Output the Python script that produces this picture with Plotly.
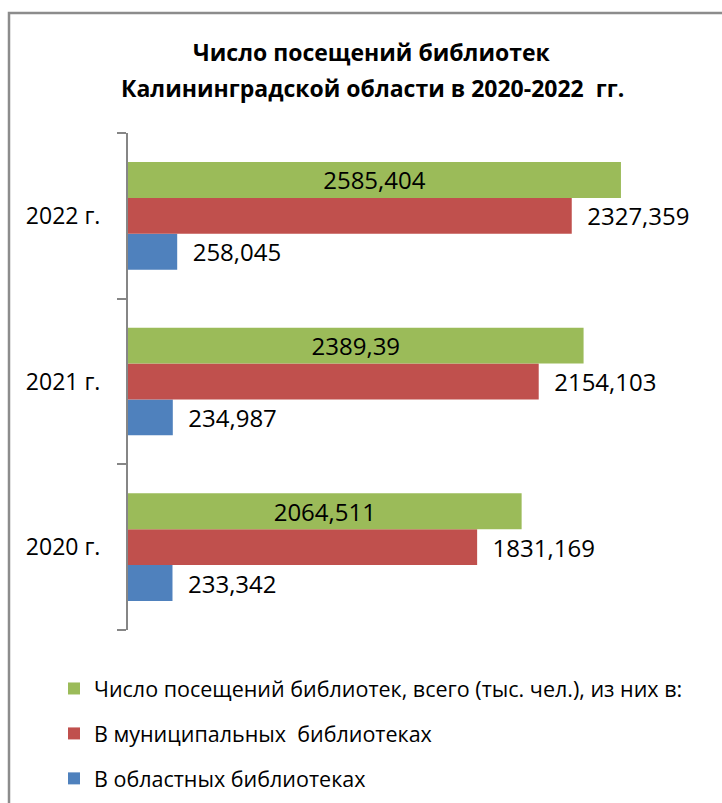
import plotly.graph_objects as go

categories = ["2020 г.", "2021 г.", "2022 г."]
total_visits = [2064.511, 2389.39, 2585.404]
municipal_visits = [1831.169, 2154.103, 2327.359]
regional_visits = [233.342, 234.987, 258.045]

series_names = [
    "Число посещений библиотек, всего (тыс. чел.), из них в:",
    "В муниципальных  библиотеках",
    "В областных библиотеках",
]
colors = ["#9BBB59", "#C0504D", "#4F81BD"]
FONT = "Open Sans"


def fmt(v):
    return str(v).replace(".", ",")


W, H = 722, 803
ML, MR, MT, MB = 128, 22, 133, 173
PW = W - ML - MR
PH = H - MT - MB


def px_x(p):
    return (p - ML) / PW


def px_y(p):
    return (H - MB - p) / PH


fig = go.Figure()
# blue first (bottom of group), then red, then green (top)
fig.add_trace(go.Bar(
    y=categories, x=regional_visits, orientation="h", name=series_names[2],
    marker=dict(color=colors[2], line=dict(width=0)),
    text=["\u00a0\u00a0" + fmt(v) for v in regional_visits],
    textposition="outside", textfont=dict(family=FONT, size=24, color="black"),
    cliponaxis=False, legendgroup="c", legendrank=3,
))
fig.add_trace(go.Bar(
    y=categories, x=municipal_visits, orientation="h", name=series_names[1],
    marker=dict(color=colors[1], line=dict(width=0)),
    text=["\u00a0\u00a0" + fmt(v) for v in municipal_visits],
    textposition="outside", textfont=dict(family=FONT, size=24, color="black"),
    cliponaxis=False, legendgroup="b", legendrank=2,
))
fig.add_trace(go.Bar(
    y=categories, x=total_visits, orientation="h", name=series_names[0],
    marker=dict(color=colors[0], line=dict(width=0)),
    text=[fmt(v) for v in total_visits],
    textposition="inside", insidetextanchor="middle",
    textfont=dict(family=FONT, size=24, color="black"),
    constraintext="none", cliponaxis=False, legendgroup="a", legendrank=1,
))

fig.update_layout(
    width=W, height=H,
    margin=dict(l=ML, r=MR, t=MT, b=MB, autoexpand=False),
    paper_bgcolor="white", plot_bgcolor="white",
    font=dict(family=FONT, color="black"),
    barmode="group", bargap=0.35, bargroupgap=0,
    xaxis=dict(visible=False, range=[0, 3000], fixedrange=True),
    yaxis=dict(
        showline=True, linecolor="#868686", linewidth=2,
        ticks="outside", tickson="boundaries", ticklen=9, tickcolor="#868686", tickwidth=2,
        ticklabelstandoff=21,
        tickfont=dict(family=FONT, size=23, color="black"),
        showgrid=False, zeroline=False, fixedrange=True,
    ),
    showlegend=True,
    legend=dict(
        x=px_x(54), xanchor="left", y=px_y(668), yanchor="top",
        traceorder="grouped", tracegroupgap=14,
        font=dict(family=FONT, size=21.5, color="black"),
        bgcolor="rgba(0,0,0,0)",
    ),
    annotations=[
        dict(text="<b>Число посещений библиотек</b>", xref="paper", yref="paper",
             x=px_x(372), y=px_y(52), xanchor="center", yanchor="middle",
             showarrow=False, font=dict(family=FONT, size=23, color="black")),
        dict(text="<b>Калининградской области в 2020-2022  гг.</b>", xref="paper", yref="paper",
             x=px_x(372), y=px_y(88), xanchor="center", yanchor="middle",
             showarrow=False, font=dict(family=FONT, size=23, color="black")),
    ],
    shapes=[dict(
        type="rect", xref="paper", yref="paper",
        x0=px_x(9), x1=px_x(760), y0=px_y(840), y1=px_y(13),
        line=dict(color="#8C8C8C", width=2.5), fillcolor="rgba(0,0,0,0)", layer="above",
    )],
)

fig.write_html(
    "out.html",
    config={"displayModeBar": False},
    post_script="document.body.style.margin='0';document.body.style.overflow='hidden';",
)
